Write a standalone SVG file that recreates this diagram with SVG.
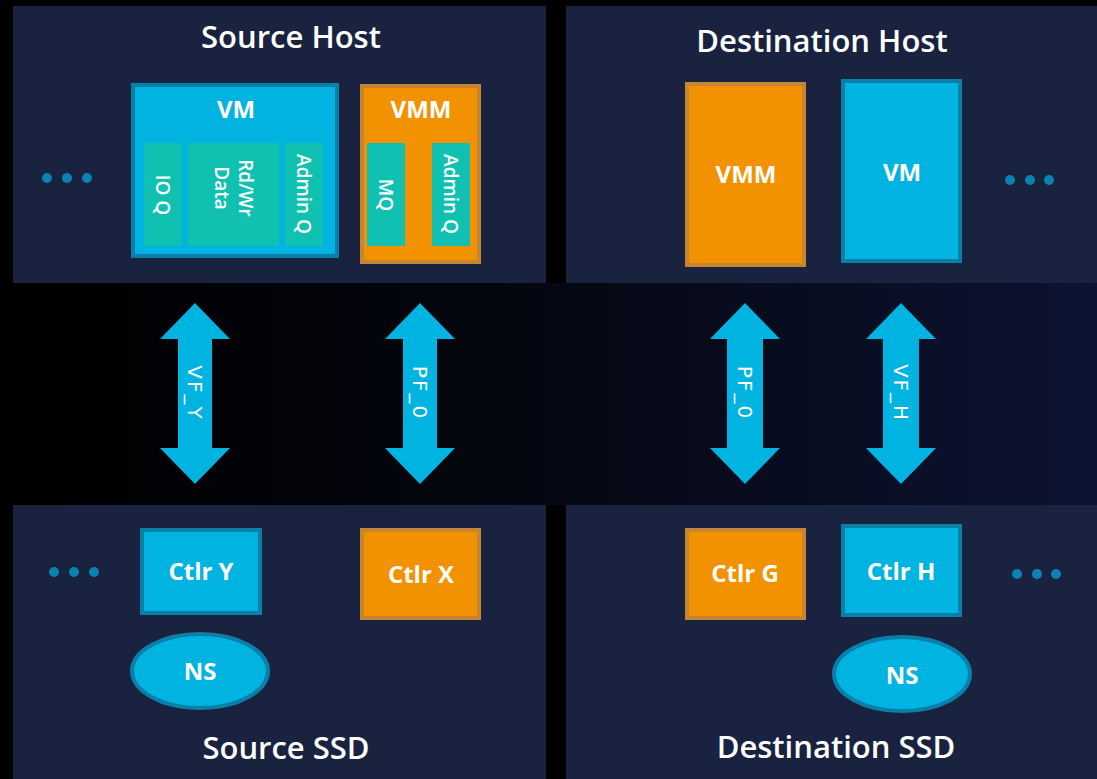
<svg xmlns="http://www.w3.org/2000/svg" width="1097" height="779" viewBox="0 0 1097 779">
  <defs>
    <linearGradient id="band" x1="0" y1="0" x2="1" y2="0">
      <stop offset="0" stop-color="#000000"/>
      <stop offset="0.45" stop-color="#04060f"/>
      <stop offset="1" stop-color="#0c1331"/>
    </linearGradient>
    <style>
      .panel { fill: #19233f; }
      .title { font-family: "Open Sans", Lato, sans-serif; font-weight: 600; font-size: 31px; fill: #ffffff; text-anchor: middle; }
      .blue { fill: #00b3e1; stroke: #0a7fa8; stroke-width: 4; }
      .orange { fill: #f39200; stroke: #c68631; stroke-width: 4; }
      .teal { fill: #10c0b1; }
      .lbl { font-family: "Open Sans", Lato, sans-serif; font-weight: 700; font-size: 24px; fill: #ffffff; text-anchor: middle; dominant-baseline: central; }
      .vlbl { font-family: "Open Sans", Lato, sans-serif; font-weight: 600; font-size: 19px; fill: #ffffff; text-anchor: middle; dominant-baseline: central; }
      .dot { fill: #0a83b3; }
      .arrow { fill: #00b3e1; }
      .alabel { font-family: "DejaVu Sans", sans-serif; font-size: 20px; letter-spacing: 2px; fill: #ffffff; text-anchor: middle; dominant-baseline: central; }
    </style>
  </defs>

  <!-- backdrop -->
  <rect width="1097" height="779" fill="#000000"/>
  <rect x="0" y="283" width="1097" height="222" fill="url(#band)"/>

  <!-- panels -->
  <g id="source-host">
    <rect class="panel" x="13" y="6" width="533" height="277"/>
    <text class="title" x="291" y="48">Source Host</text>
    <circle class="dot" cx="47" cy="178" r="5"/>
    <circle class="dot" cx="67" cy="178" r="5"/>
    <circle class="dot" cx="87" cy="178" r="5"/>
  </g>
  <g id="destination-host">
    <rect class="panel" x="566" y="6" width="531" height="277"/>
    <text class="title" x="822" y="52">Destination Host</text>
    <circle class="dot" cx="1010" cy="180" r="5"/>
    <circle class="dot" cx="1030" cy="180" r="5"/>
    <circle class="dot" cx="1049" cy="180" r="5"/>
  </g>
  <g id="source-ssd">
    <rect class="panel" x="13" y="505" width="533" height="274"/>
    <text class="title" x="286" y="759">Source SSD</text>
    <circle class="dot" cx="54" cy="572" r="5"/>
    <circle class="dot" cx="74" cy="572" r="5"/>
    <circle class="dot" cx="94" cy="572" r="5"/>
  </g>
  <g id="destination-ssd">
    <rect class="panel" x="566" y="505" width="531" height="274"/>
    <text class="title" x="836" y="758">Destination SSD</text>
    <circle class="dot" cx="1017" cy="574" r="5"/>
    <circle class="dot" cx="1037" cy="574" r="5"/>
    <circle class="dot" cx="1056" cy="574" r="5"/>
  </g>

  <!-- source host nodes -->
  <g id="src-vm">
    <rect class="blue" x="133" y="85" width="204" height="171"/>
    <text class="lbl" x="236" y="108">VM</text>
    <rect class="teal" x="144" y="143" width="38" height="103"/>
    <text class="vlbl" transform="rotate(90 163 195)" x="163" y="195">IO Q</text>
    <rect class="teal" x="188" y="143" width="91" height="103"/>
    <text class="vlbl" transform="rotate(90 233.5 188)" x="233.5" y="188"><tspan x="233.5" y="176">Rd/Wr</tspan><tspan x="233.5" y="200">Data</tspan></text>
    <rect class="teal" x="285" y="143" width="38" height="103"/>
    <text class="vlbl" transform="rotate(90 304 194)" x="304" y="194">Admin Q</text>
  </g>
  <g id="src-vmm">
    <rect class="orange" x="362" y="86" width="117" height="176"/>
    <text class="lbl" x="421" y="108">VMM</text>
    <rect class="teal" x="367" y="143" width="38" height="103"/>
    <text class="vlbl" transform="rotate(90 386 195)" x="386" y="195">MQ</text>
    <rect class="teal" x="432" y="143" width="38" height="103"/>
    <text class="vlbl" transform="rotate(90 451 194)" x="451" y="194">Admin Q</text>
  </g>

  <!-- destination host nodes -->
  <g id="dst-vmm">
    <rect class="orange" x="687" y="84" width="117" height="181"/>
    <text class="lbl" x="746" y="173">VMM</text>
  </g>
  <g id="dst-vm">
    <rect class="blue" x="843" y="81" width="117" height="180"/>
    <text class="lbl" x="902" y="171">VM</text>
  </g>

  <!-- controllers and namespaces -->
  <g id="ctlr-y">
    <rect class="blue" x="142" y="530" width="118" height="83"/>
    <text class="lbl" x="201" y="570">Ctlr Y</text>
  </g>
  <g id="ctlr-x">
    <rect class="orange" x="362" y="530" width="117" height="88"/>
    <text class="lbl" x="421" y="573">Ctlr X</text>
  </g>
  <g id="ns-source">
    <ellipse class="blue" cx="200" cy="671" rx="68" ry="37"/>
    <text class="lbl" x="200" y="670">NS</text>
  </g>
  <g id="ctlr-g">
    <rect class="orange" x="687" y="530" width="117" height="88"/>
    <text class="lbl" x="745" y="572">Ctlr G</text>
  </g>
  <g id="ctlr-h">
    <rect class="blue" x="843" y="526" width="117" height="89"/>
    <text class="lbl" x="901" y="570">Ctlr H</text>
  </g>
  <g id="ns-destination">
    <ellipse class="blue" cx="902" cy="674" rx="68" ry="37"/>
    <text class="lbl" x="902" y="674">NS</text>
  </g>

  <!-- host-to-controller links -->
  <g id="connectors">
    <polygon class="arrow" points="195,303 230,339 212,339 212,448 230,448 195,484 160,448 178,448 178,339 160,339"/>
    <text class="alabel" transform="rotate(90 195 393)" x="195" y="393">VF_Y</text>
    <polygon class="arrow" points="420,303 455,339 437,339 437,448 455,448 420,484 385,448 403,448 403,339 385,339"/>
    <text class="alabel" transform="rotate(90 420 393)" x="420" y="393">PF_0</text>
    <polygon class="arrow" points="745,303 780,339 763,339 763,448 780,448 745,484 710,448 727,448 727,339 710,339"/>
    <text class="alabel" transform="rotate(90 745 393)" x="745" y="393">PF_0</text>
    <polygon class="arrow" points="901,303 936,339 919,339 919,448 936,448 901,484 866,448 883,448 883,339 866,339"/>
    <text class="alabel" transform="rotate(90 901 393)" x="901" y="393">VF_H</text>
  </g>
</svg>
